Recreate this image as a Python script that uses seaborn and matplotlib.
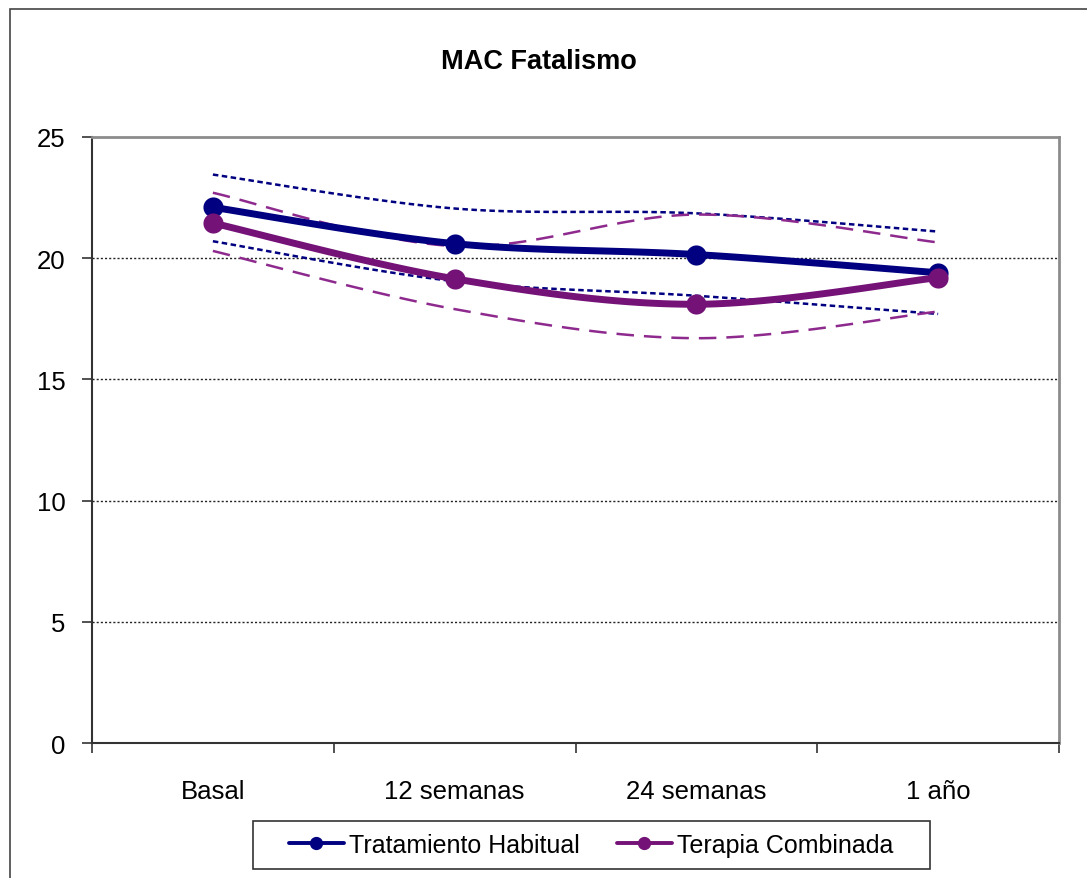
import matplotlib
matplotlib.use("Agg")
import matplotlib.pyplot as plt
import seaborn as sns
import numpy as np
import pandas as pd
from matplotlib.lines import Line2D
from matplotlib.patches import Rectangle

# values
categories = ["Basal", "12 semanas", "24 semanas", "1 año"]
habitual = [22.1, 20.6, 20.15, 19.4]
habitual_upper = [23.45, 22.05, 21.85, 21.1]
habitual_lower = [20.7, 19.05, 18.45, 17.7]
combinada = [21.45, 19.15, 18.1, 19.2]
combinada_upper = [22.7, 20.5, 21.8, 20.65]
combinada_lower = [20.3, 17.9, 16.7, 17.8]

blue = "#000080"
purple = "#741277"
purple_light = "#8E2A8E"


def smooth(y, n=40):
    # Excel style smoothed line: bezier segments, control points from neighbours
    x = np.arange(len(y), dtype=float)
    y = np.asarray(y, dtype=float)
    xs, ys = [], []
    for i in range(len(y) - 1):
        p0 = np.array([x[max(i - 1, 0)], y[max(i - 1, 0)]])
        p1 = np.array([x[i], y[i]])
        p2 = np.array([x[i + 1], y[i + 1]])
        p3 = np.array([x[min(i + 2, len(y) - 1)], y[min(i + 2, len(y) - 1)]])
        c1 = p1 + (p2 - p0) / 6
        c2 = p2 - (p3 - p1) / 6
        t = np.linspace(0, 1, n)[:, None]
        pts = ((1 - t) ** 3) * p1 + 3 * ((1 - t) ** 2) * t * c1 + 3 * (1 - t) * t ** 2 * c2 + t ** 3 * p2
        xs.extend(pts[:, 0])
        ys.extend(pts[:, 1])
    return pd.DataFrame({"x": xs, "y": ys})


sns.set_style("white")
plt.rcParams["font.family"] = ["Liberation Sans", "DejaVu Sans"]
plt.rcParams["text.color"] = "black"
plt.rcParams["xtick.color"] = "black"
plt.rcParams["ytick.color"] = "black"

fig = plt.figure(figsize=(10.87, 8.79), dpi=100)
ax = fig.add_axes([92 / 1087, 1 - 744 / 879, (1059 - 92) / 1087, (744 - 138) / 879])

# outer chart border
fig.patches.append(Rectangle((10 / 1087, -0.01), 1.2, 1 - 10 / 879 + 0.01,
                             transform=fig.transFigure, fill=False,
                             edgecolor="#444444", linewidth=1.2))

# confidence lines
for vals, col, ls in [(habitual_upper, blue, (0, (2.2, 1.4))),
                      (habitual_lower, blue, (0, (2.2, 1.4))),
                      (combinada_upper, purple_light, (0, (7, 4))),
                      (combinada_lower, purple_light, (0, (7, 4)))]:
    d = smooth(vals)
    sns.lineplot(data=d, x="x", y="y", sort=False, ax=ax, color=col,
                 linewidth=1.8, linestyle=ls, estimator=None)

# main series
for vals, col in [(habitual, blue), (combinada, purple)]:
    d = smooth(vals)
    sns.lineplot(data=d, x="x", y="y", sort=False, ax=ax, color=col,
                 linewidth=5, estimator=None)
    pts = pd.DataFrame({"x": np.arange(len(vals)), "y": vals})
    sns.scatterplot(data=pts, x="x", y="y", ax=ax, color=col, s=210,
                    edgecolor=col, linewidth=0, zorder=5)

ax.set_xlim(-0.5, len(categories) - 0.5)
ax.set_ylim(0, 25)
ax.set_yticks([0, 5, 10, 15, 20, 25])
ax.set_xticks(np.arange(-0.5, len(categories), 1.0))
ax.set_xticklabels([])
ax.set_xticks(np.arange(len(categories)), minor=True)
ax.set_xticklabels(categories, minor=True)
ax.tick_params(axis="x", which="major", direction="out", length=7, width=1.2, color="#333333", bottom=True)
ax.tick_params(axis="x", which="minor", length=0, pad=26, labelsize=18.5)
ax.tick_params(axis="y", direction="out", length=7, width=1.2, color="#333333", left=True, pad=12, labelsize=18.5)
ax.set_xlabel("")
ax.set_ylabel("")

for yv in [5, 10, 15, 20]:
    ax.axhline(yv, color="#222222", linestyle=(0, (1.5, 1.5)), linewidth=1.0, zorder=0)

for side in ["top", "right"]:
    ax.spines[side].set_visible(True)
    ax.spines[side].set_color("#8c8c8c")
    ax.spines[side].set_linewidth(2)
for side in ["left", "bottom"]:
    ax.spines[side].set_color("#333333")
    ax.spines[side].set_linewidth(1.5)

fig.text(539 / 1087, 1 - 62 / 879, "MAC Fatalismo", ha="center", va="center",
         fontsize=19.5, fontweight="bold")

handles = [Line2D([], [], color=blue, linewidth=2.8, marker="o", markersize=8.5),
           Line2D([], [], color=purple, linewidth=2.8, marker="o", markersize=8.5)]
leg = fig.legend(handles, ["Tratamiento Habitual", "Terapia Combinada"],
                 loc="center", bbox_to_anchor=(591 / 1087, 1 - 846 / 879), ncol=2,
                 fontsize=18, frameon=False, handlelength=2.2,
                 handletextpad=0.2, columnspacing=1.5, borderpad=0.45)
# legend box, wider than the entries like in the original
fig.patches.append(Rectangle((253 / 1087, 1 - 870 / 879), (930 - 253) / 1087, 48 / 879,
                             transform=fig.transFigure, fill=False,
                             edgecolor="#333333", linewidth=1.2))

fig.savefig("out.png", dpi=100)
